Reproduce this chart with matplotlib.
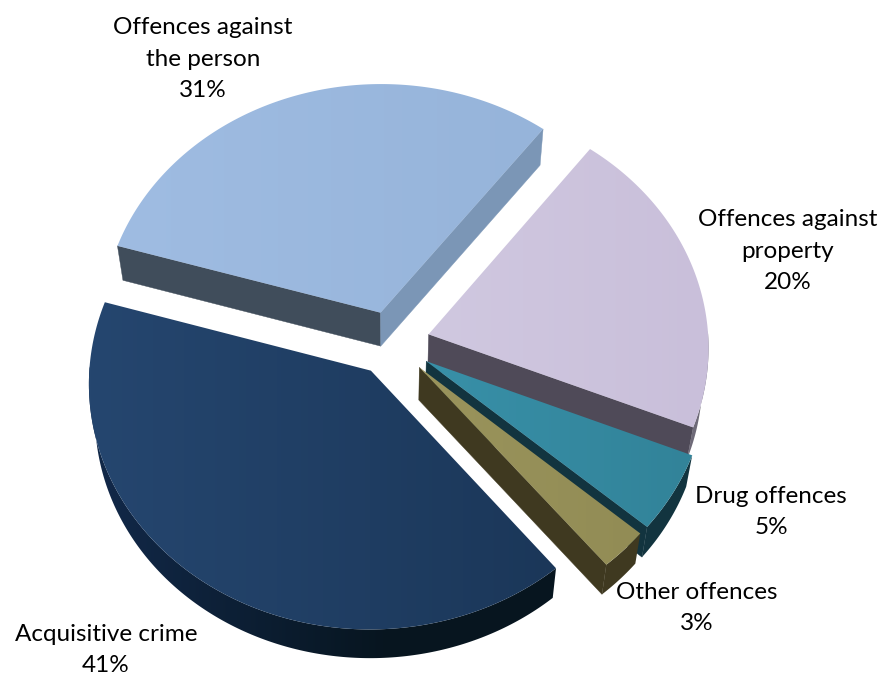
import numpy as np
import matplotlib.pyplot as plt
from matplotlib.patches import Polygon
from matplotlib.colors import LinearSegmentedColormap

# values, clockwise from the left cut of the light blue slice
categories = ["Offences against\nthe person", "Offences against\nproperty", "Drug offences",
              "Other offences", "Acquisitive crime"]
percent_labels = [31, 20, 5, 3, 41]
# slice sizes as measured on the picture
shares = [30.8, 20.8, 5.2, 2.7, 40.5]

top_left = ["#9fbce2", "#d0c8e0", "#3890a8", "#9a945c", "#25466f"]
top_right = ["#96b4da", "#c9bfda", "#328399", "#928c55", "#1b3759"]
# None: that cut face is turned away from the viewer
cut_start = ["#404d5b", None, None, None, None]
cut_end = ["#7b96b6", "#4f4a58", "#12343f", "#3f3920", None]
side_left = ["#7b96b6", "#6e6a78", "#12343f", "#3f3920", "#12294a"]
side_right = ["#7b96b6", "#6e6a78", "#12343f", "#3f3920", "#07151f"]
label_pos = [(203, 59), (788, 251), (771, 512), (697, 608), (106, 650)]
explode = [37, 38, 40, 39, 38]

start_angle = 163.6
cx, cy = 392, 343
rx, ry, persp = 280, 243, 0.05
depth = 33
shrink_x, shrink_y = 0.98, 0.985


def project(u, v, lower=False):
    # u, v are pixel-like units on the pie plane, v points away from the viewer
    w = 1 + persp * v / ry
    x = cx + u / w
    y = cy - v / w
    if lower:
        x = cx + (x - cx) * shrink_x
        y = cy + (y - cy) * shrink_y + depth
    return x, y


def offset(mid, e):
    return e * np.cos(np.radians(mid)), e * np.sin(np.radians(mid)) * ry / rx


def arc(ts, ox, oy, lower=False):
    r = np.radians(ts)
    return project(ox + rx * np.cos(r), oy + ry * np.sin(r), lower)


def shaded(ax, outline, c0, c1, z, x0=None, x1=None):
    # polygon filled through a clipped left to right gradient image
    patch = Polygon(outline, fc="none", ec="none", zorder=z)
    ax.add_patch(patch)
    cmap = LinearSegmentedColormap.from_list("shade", [c0, c1])
    x0 = outline[:, 0].min() if x0 is None else x0
    x1 = outline[:, 0].max() if x1 is None else x1
    xs = np.arange(0, 881)
    im = ax.imshow(np.clip((xs - x0) / (x1 - x0), 0, 1)[None, :], cmap=cmap, aspect="auto",
                   extent=(0, 881, 675, 0), vmin=0, vmax=1, zorder=z)
    im.set_clip_path(patch)


fig = plt.figure(figsize=(8.81, 6.75), dpi=100)
ax = fig.add_axes([0, 0, 1, 1])

angles = start_angle - np.cumsum([0] + shares) * 3.6
z = 1
for i, name in enumerate(categories):
    t0, t1 = angles[i], angles[i + 1]
    mid = (t0 + t1) / 2
    ox, oy = offset(mid, explode[i])
    xa, ya = project(ox, oy)
    xb, yb = project(ox, oy, True)
    ts = np.linspace(t0, t1, 200)
    xt, yt = arc(ts, ox, oy)
    xl, yl = arc(ts, ox, oy, True)

    # the cut faces that can be seen
    if cut_start[i]:
        ax.add_patch(Polygon([(xa, ya), (xt[0], yt[0]), (xl[0], yl[0]), (xb, yb)],
                             fc=cut_start[i], ec=cut_start[i], lw=0.3, zorder=z))
    if cut_end[i]:
        ax.add_patch(Polygon([(xa, ya), (xt[-1], yt[-1]), (xl[-1], yl[-1]), (xb, yb)],
                             fc=cut_end[i], ec=cut_end[i], lw=0.3, zorder=z))

    # outer wall, only the part turned to the viewer
    front = np.sin(np.radians(ts)) <= 0.02
    if front.any():
        wall = np.column_stack([np.r_[xt[front], xl[front][::-1]],
                                np.r_[yt[front], yl[front][::-1]]])
        shaded(ax, wall, side_left[i], side_right[i], z, 90, 390)

    # top face with a faint left to right shading
    shaded(ax, np.column_stack([np.r_[xa, xt], np.r_[ya, yt]]), top_left[i], top_right[i], z + 1)
    z += 2

for name, pct, (lx, ly) in zip(categories, percent_labels, label_pos):
    ax.text(lx, ly, "{}\n{}%".format(name, pct), ha="center", va="center",
            family="Lato", fontsize=17.5, color="black", linespacing=1.6, zorder=50)

ax.set_xlim(0, 881)
ax.set_ylim(675, 0)
ax.axis("off")
fig.savefig("out.png", dpi=100)
plt.close(fig)
